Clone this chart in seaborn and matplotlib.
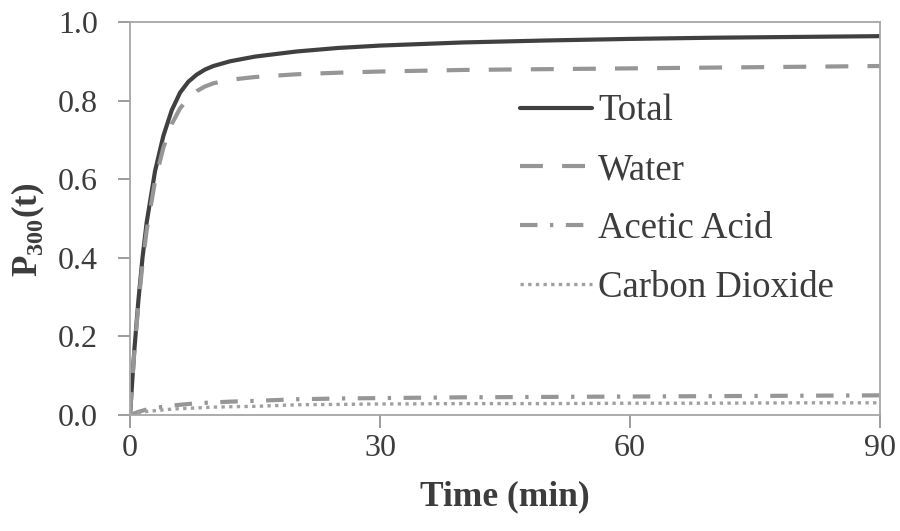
import matplotlib
matplotlib.use("Agg")
import matplotlib.pyplot as plt
import pandas as pd
import seaborn as sns

# values
time_min = [0, 0.5, 1, 1.5, 2, 3, 4, 5, 6, 7, 8, 9, 10, 12, 15, 20, 25, 30, 40, 50, 60, 70, 80, 90]
total = [0, 0.16, 0.29, 0.40, 0.49, 0.62, 0.71, 0.775, 0.82, 0.848, 0.866, 0.879, 0.888, 0.900,
         0.912, 0.925, 0.934, 0.940, 0.948, 0.953, 0.957, 0.960, 0.962, 0.964]
water = [0, 0.155, 0.28, 0.385, 0.47, 0.595, 0.68, 0.74, 0.78, 0.806, 0.824, 0.836, 0.844, 0.853,
         0.860, 0.867, 0.871, 0.874, 0.878, 0.880, 0.882, 0.884, 0.886, 0.888]
acetic = [0, 0.004, 0.008, 0.011, 0.014, 0.018, 0.021, 0.024, 0.026, 0.028, 0.030, 0.031, 0.032,
          0.034, 0.036, 0.040, 0.042, 0.043, 0.045, 0.046, 0.047, 0.048, 0.049, 0.050]
co2 = [0, 0.003, 0.005, 0.007, 0.009, 0.011, 0.013, 0.015, 0.016, 0.017, 0.018, 0.019, 0.020,
       0.021, 0.022, 0.026, 0.027, 0.028, 0.029, 0.029, 0.030, 0.030, 0.031, 0.031]

series_names = ["Total", "Water", "Acetic Acid", "Carbon Dioxide"]
x_ticks = [0, 30, 60, 90]
y_ticks = [0.0, 0.2, 0.4, 0.6, 0.8, 1.0]

sns.set_theme(style="white")
plt.rcParams["font.family"] = ["Liberation Serif", "DejaVu Serif"]
plt.rcParams["mathtext.fontset"] = "custom"
plt.rcParams["mathtext.rm"] = "Liberation Serif"
plt.rcParams["mathtext.bf"] = "Liberation Serif:bold"
plt.rcParams["xtick.bottom"] = True
plt.rcParams["ytick.left"] = True
plt.rcParams["xtick.direction"] = "out"
plt.rcParams["ytick.direction"] = "out"

TEXT = "#3c3c3c"
styles = {
    "Total": dict(color="#404040", lw=3.0, linestyle="-"),
    "Water": dict(color="#969696", lw=3.0, linestyle=(0, (5.5, 4.6))),
    "Acetic Acid": dict(color="#969696", lw=3.0, linestyle=(0, (4.2, 3.0, 0.8, 3.0))),
    "Carbon Dioxide": dict(color="#a0a0a0", lw=2.4, linestyle=(0, (1.0, 1.3))),
}

df = pd.DataFrame({"time": time_min, "Total": total, "Water": water,
                   "Acetic Acid": acetic, "Carbon Dioxide": co2})

fig = plt.figure(figsize=(9, 5.31), dpi=100)
ax = fig.add_axes([130 / 900, 1 - 415 / 531, 750 / 900, 393 / 531])

for name in series_names:
    sns.lineplot(data=df, x="time", y=name, ax=ax, label=name, **styles[name])

ax.set_xlim(0, 90)
ax.set_ylim(0, 1.0)
ax.set_xticks(x_ticks)
ax.set_yticks(y_ticks)
ax.set_xticklabels([str(v) for v in x_ticks])
ax.set_yticklabels([f"{v:.1f}" for v in y_ticks])
ax.tick_params(axis="both", which="major", direction="out", length=9, width=1.2,
               color="#8c8c8c", labelsize=23, labelcolor=TEXT, bottom=True, left=True)
ax.tick_params(axis="y", pad=14)
ax.tick_params(axis="x", pad=5)
for sp in ax.spines.values():
    sp.set_visible(True)
    sp.set_color("#a6a6a6")
    sp.set_linewidth(1.3)

ax.set_xlabel("Time (min)", fontsize=25.5, fontweight="bold", color=TEXT, labelpad=12)
ax.set_ylabel(r"$\mathbf{P}_{\mathbf{300}}\mathbf{(t)}$", fontsize=25, color=TEXT)
ax.yaxis.set_label_coords(-0.111, 0.47)

leg = ax.legend(loc="upper left", bbox_to_anchor=(520 / 900, 1 - 94 / 531),
                bbox_transform=fig.transFigure, frameon=False, fontsize=26.5,
                borderpad=0, borderaxespad=0, handlelength=1.95, handletextpad=0.17,
                labelspacing=0.66)
for t in leg.get_texts():
    t.set_color(TEXT)

fig.savefig("out.png", dpi=100)
